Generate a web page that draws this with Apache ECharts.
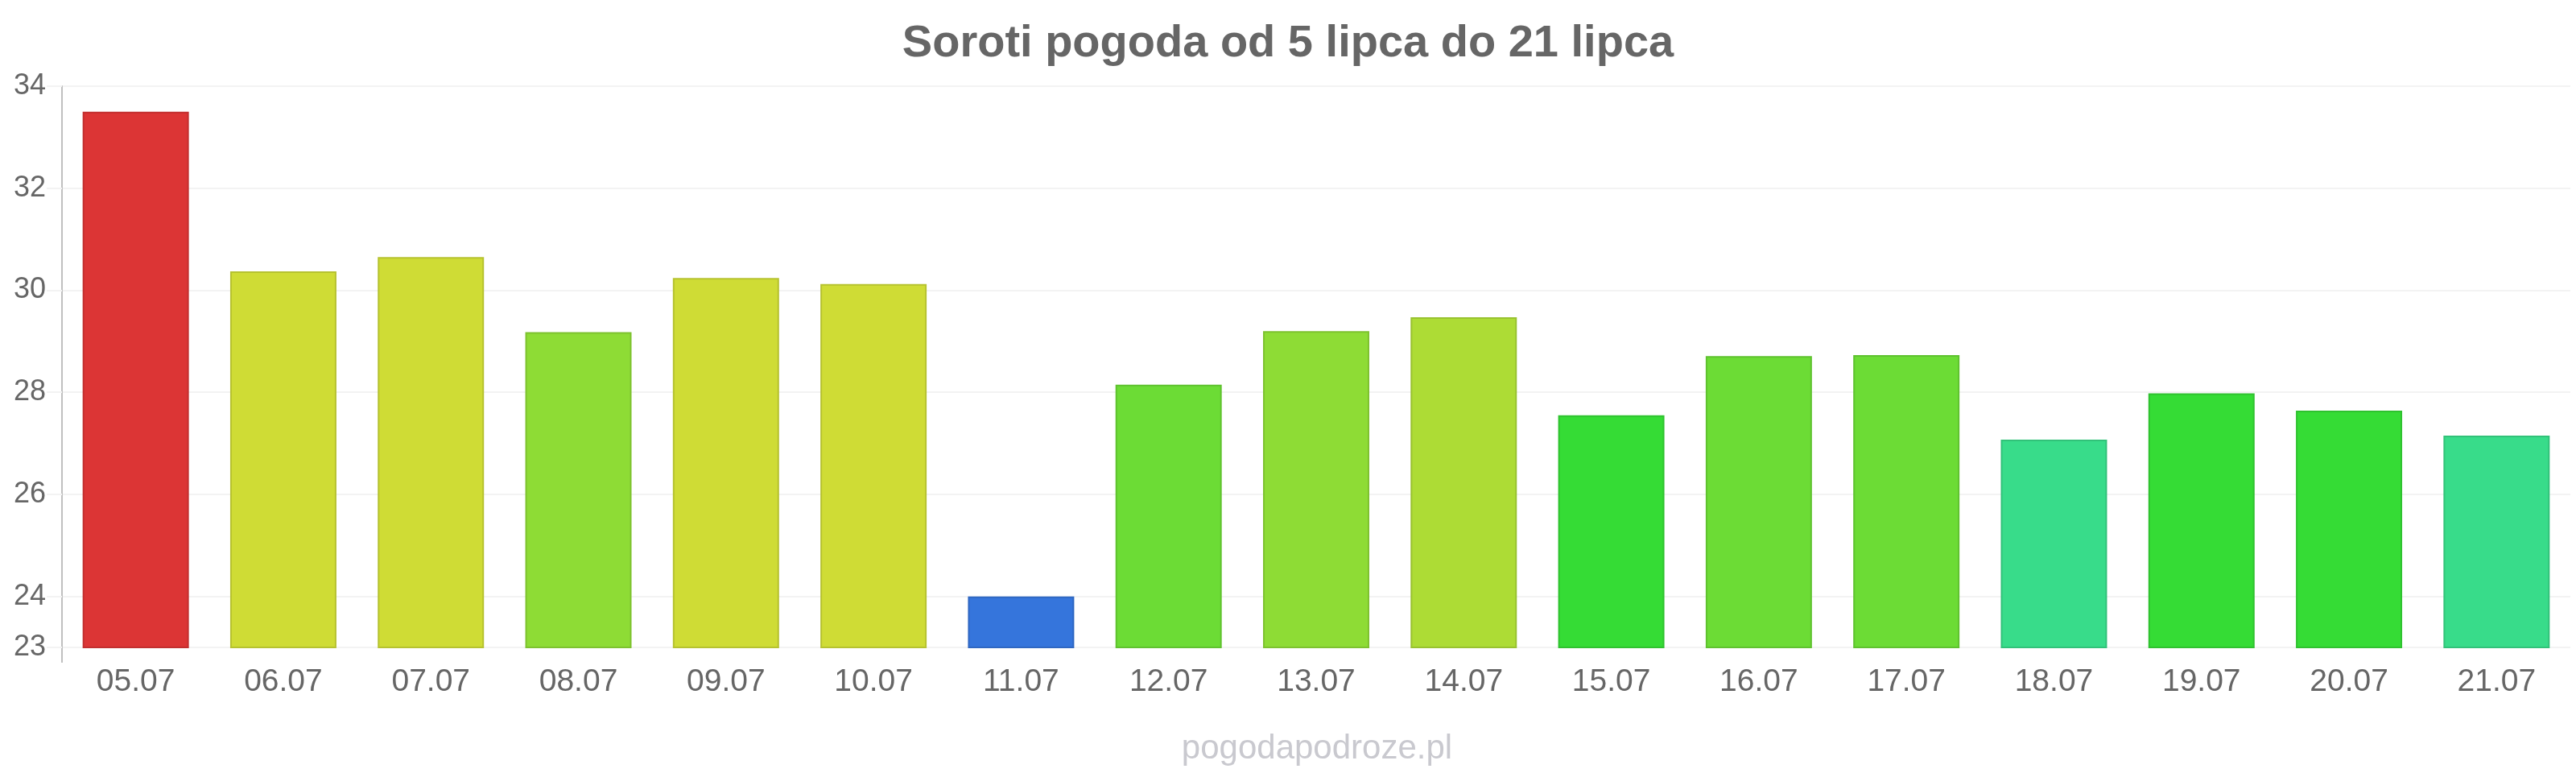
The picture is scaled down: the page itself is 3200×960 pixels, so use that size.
<!DOCTYPE html>
<html>
<head>
<meta charset="utf-8">
<title>Soroti pogoda</title>
<script src="https://cdn.jsdelivr.net/npm/echarts@6/dist/echarts.min.js"></script>
<style>
  html, body { margin: 0; padding: 0; background: #fff; }
  #chart { width: 3200px; height: 960px; }
</style>
</head>
<body>
<div id="chart"></div>
<script>
// dni (kategorie osi X)
const days = ['05.07', '06.07', '07.07', '08.07', '09.07', '10.07', '11.07', '12.07', '13.07',
  '14.07', '15.07', '16.07', '17.07', '18.07', '19.07', '20.07', '21.07'];
// temperatura maksymalna
const temps = [33.5, 30.37, 30.65, 29.18, 30.24, 30.12, 24.0, 28.15, 29.2,
  29.47, 27.55, 28.71, 28.73, 27.07, 27.98, 27.64, 27.15];
// kolory slupkow
const barColors = ['#dc3535', '#cfdc35', '#cfdc35', '#8edc35', '#cfdc35', '#cfdc35', '#3575dc', '#6cdc35', '#8edc35',
  '#addc35', '#35dc35', '#6cdc35', '#6cdc35', '#38dc8a', '#35dc35', '#35dc35', '#38dc8a'];
// podzialka osi Y
const yTicks = [23, 24, 26, 28, 30, 32, 34];

function darken(hex, k) {
  const n = parseInt(hex.slice(1), 16);
  const r = Math.round(((n >> 16) & 255) * k);
  const g = Math.round(((n >> 8) & 255) * k);
  const b = Math.round((n & 255) * k);
  return 'rgb(' + r + ',' + g + ',' + b + ')';
}

const chart = echarts.init(document.getElementById('chart'));
const font = '"Liberation Sans", Arial, sans-serif';
const gridLeft = 77;

chart.setOption({
  animation: false,
  textStyle: { fontFamily: font },
  title: {
    text: 'Soroti pogoda od 5 lipca do 21 lipca',
    left: 'center',
    top: 22,
    textStyle: { fontSize: 56, fontWeight: 'bold', color: '#666', fontFamily: font }
  },
  grid: { left: gridLeft, right: 7, top: 107, bottom: 156, containLabel: false },
  xAxis: {
    type: 'category',
    data: days,
    axisLine: { show: false },
    axisTick: { show: false },
    axisLabel: { fontSize: 39, color: '#666', margin: 24 }
  },
  yAxis: {
    type: 'value',
    min: 23,
    max: 34,
    axisLine: { show: true, lineStyle: { color: '#c0c0c0', width: 2 } },
    axisTick: { show: true, length: 19, customValues: yTicks, lineStyle: { color: '#f3f3f3', width: 2 } },
    axisLabel: { fontSize: 36, color: '#666', margin: 20, customValues: yTicks },
    splitLine: { show: true, lineStyle: { color: '#f3f3f3', width: 2 } }
  },
  series: [{
    type: 'bar',
    barWidth: '72%',
    data: temps.map(function (v, i) {
      return {
        value: v,
        itemStyle: { color: barColors[i], borderColor: darken(barColors[i], 0.88), borderWidth: 2 }
      };
    })
  }]
});

// znak wodny + os Y wystajaca ponizej linii bazowej
const yBase = chart.convertToPixel({ yAxisIndex: 0 }, yTicks[0]);
chart.setOption({
  graphic: [{
    type: 'text',
    x: 1636,
    y: 930,
    style: {
      text: 'pogodapodroze.pl',
      fill: '#c9c9cf',
      fontSize: 42,
      fontFamily: font,
      align: 'center',
      verticalAlign: 'middle'
    }
  }, {
    type: 'line',
    shape: { x1: gridLeft, y1: yBase, x2: gridLeft, y2: yBase + 19 },
    style: { stroke: '#c0c0c0', lineWidth: 2 }
  }]
});
</script>
</body>
</html>
